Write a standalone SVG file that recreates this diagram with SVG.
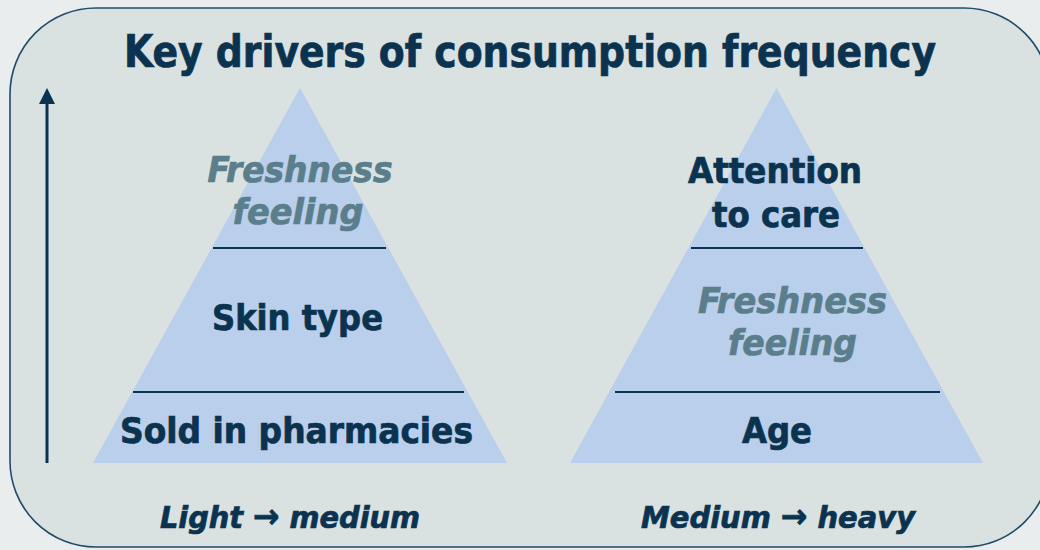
<svg xmlns="http://www.w3.org/2000/svg" width="1040" height="550" viewBox="0 0 1040 550">
  <style>
    .t { font-family: "DejaVu Sans Condensed", "DejaVu Sans", sans-serif; font-weight: bold; text-anchor: middle; fill: #0b3350; stroke: #0b3350; stroke-width: 0.7; }
    .lbl { font-size: 36px; }
    .soft { fill: #5b7e8b; stroke: #5b7e8b; font-style: italic; }
    .foot { font-size: 31px; font-style: italic; }
    .arr { font-style: normal; font-size: 34px; }
    .pyr { fill: #bacfeb; }
    .div { stroke: #0b3350; stroke-width: 2.2; }
  </style>

  <!-- page background and frame -->
  <rect x="0" y="0" width="1040" height="550" fill="#e9eded"/>
  <rect id="frame" x="10" y="8" width="1040" height="539" rx="86" ry="86" fill="#d9e1e1" stroke="#1f4d69" stroke-width="1.6"/>

  <text id="title" class="t" x="530" y="67" font-size="44" textLength="812" lengthAdjust="spacingAndGlyphs">Key drivers of consumption frequency</text>

  <!-- vertical intensity axis -->
  <g id="connectors">
    <line x1="47" y1="463" x2="47" y2="103" stroke="#0b3350" stroke-width="3"/>
    <path d="M39,104 L47,88 L55,104 Z" fill="#0b3350"/>
  </g>

  <!-- light to medium pyramid -->
  <g id="pyramid-light">
    <polygon class="pyr" points="300,88 507,463 93,463"/>
    <line class="div" x1="213" y1="248" x2="386" y2="248"/>
    <line class="div" x1="133" y1="392" x2="464" y2="392"/>
  </g>
  <g id="light-top">
    <text class="t lbl soft" x="300" y="182" textLength="185" lengthAdjust="spacingAndGlyphs">Freshness</text>
    <text class="t lbl soft" x="298" y="224" textLength="131" lengthAdjust="spacingAndGlyphs">feeling</text>
  </g>
  <g id="light-mid">
    <text class="t lbl" x="297.5" y="330" textLength="171" lengthAdjust="spacingAndGlyphs">Skin type</text>
  </g>
  <g id="light-base">
    <text class="t lbl" x="296.5" y="443" textLength="353" lengthAdjust="spacingAndGlyphs">Sold in pharmacies</text>
  </g>
  <g id="light-caption">
    <text class="t foot" x="290" y="528" textLength="260" lengthAdjust="spacingAndGlyphs">Light <tspan class="arr">→</tspan> medium</text>
  </g>

  <!-- medium to heavy pyramid -->
  <g id="pyramid-heavy">
    <polygon class="pyr" points="776.5,88 983,463 570,463"/>
    <line class="div" x1="691" y1="248" x2="863" y2="248"/>
    <line class="div" x1="615" y1="392" x2="940" y2="392"/>
  </g>
  <g id="heavy-top">
    <text class="t lbl" x="775" y="183" textLength="174" lengthAdjust="spacingAndGlyphs">Attention</text>
    <text class="t lbl" x="776" y="227" textLength="128" lengthAdjust="spacingAndGlyphs">to care</text>
  </g>
  <g id="heavy-mid">
    <text class="t lbl soft" x="792.5" y="313" textLength="189" lengthAdjust="spacingAndGlyphs">Freshness</text>
    <text class="t lbl soft" x="792.5" y="355" textLength="129" lengthAdjust="spacingAndGlyphs">feeling</text>
  </g>
  <g id="heavy-base">
    <text class="t lbl" x="777" y="443" textLength="70" lengthAdjust="spacingAndGlyphs">Age</text>
  </g>
  <g id="heavy-caption">
    <text class="t foot" x="778" y="528" textLength="274" lengthAdjust="spacingAndGlyphs">Medium <tspan class="arr">→</tspan> heavy</text>
  </g>
</svg>
